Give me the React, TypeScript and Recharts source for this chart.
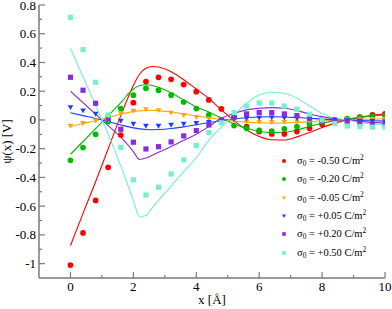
import React from 'react';
import { ComposedChart, XAxis, YAxis, Line, Scatter } from 'recharts';

// ---------- data ----------
const xPoints = [0, 0.4, 0.8, 1.2, 1.6, 2.0, 2.4, 2.8, 3.2, 3.6, 4.0, 4.4, 4.8, 5.2, 5.6, 6.0, 6.4, 6.8, 7.2, 7.6, 8.0, 8.4, 8.8, 9.2, 9.6, 10.0];

const pointsM050 = [-1.01, -0.786, -0.56, -0.33, -0.105, 0.12, 0.267, 0.297, 0.283, 0.246, 0.197, 0.139, 0.077, 0.02, -0.046, -0.081, -0.097, -0.097, -0.081, -0.058, -0.03, -0.01, 0.005, 0.019, 0.035, 0.042];
const pointsM020 = [-0.281, -0.192, -0.1, -0.012, 0.079, 0.172, 0.22, 0.207, 0.172, 0.125, 0.079, 0.035, -0.005, -0.039, -0.058, -0.072, -0.077, -0.062, -0.046, -0.028, -0.012, 0.0, 0.01, 0.018, 0.024, 0.03];
const pointsM005 = [-0.042, -0.023, -0.005, 0.02, 0.046, 0.063, 0.074, 0.067, 0.049, 0.033, 0.019, 0.008, 0.0, -0.006, -0.012, -0.015, -0.016, -0.015, -0.012, -0.008, -0.004, -0.001, 0.002, 0.004, 0.006, 0.008];
const pointsP005 = [0.088, 0.065, 0.042, 0.015, -0.007, -0.028, -0.042, -0.042, -0.035, -0.028, -0.023, -0.015, -0.005, 0.005, 0.012, 0.015, 0.016, 0.015, 0.012, 0.008, 0.003, 0.0, -0.003, -0.006, -0.008, -0.01];
const pointsP020 = [0.297, 0.207, 0.116, 0.012, -0.065, -0.155, -0.202, -0.186, -0.153, -0.111, -0.074, -0.035, 0.0, 0.019, 0.042, 0.051, 0.051, 0.042, 0.03, 0.012, -0.005, -0.012, -0.015, -0.023, -0.03, -0.033];
const pointsP050 = [0.714, 0.489, 0.262, 0.035, -0.19, -0.417, -0.522, -0.468, -0.376, -0.278, -0.178, -0.088, -0.02, 0.051, 0.097, 0.118, 0.118, 0.097, 0.074, 0.04, 0.0, -0.025, -0.042, -0.046, -0.05, -0.05];

const xLine = [0, 0.4, 0.8, 1.2, 1.6, 2.0, 2.2, 2.4, 2.6, 2.8, 3.2, 3.6, 4.0, 4.4, 4.8, 5.2, 5.6, 6.0, 6.4, 6.8, 7.2, 7.6, 8.0, 8.4, 8.8, 9.2, 9.6, 10.0];

const lineM050 = [-0.874, -0.65, -0.43, -0.2, 0.03, 0.24, 0.32, 0.36, 0.372, 0.368, 0.335, 0.28, 0.215, 0.15, 0.07, -0.005, -0.07, -0.115, -0.138, -0.14, -0.118, -0.088, -0.053, -0.022, 0.0, 0.018, 0.032, 0.042];
const lineM020 = [-0.24, -0.15, -0.06, 0.03, 0.12, 0.215, 0.24, 0.245, 0.24, 0.228, 0.19, 0.14, 0.09, 0.055, 0.012, -0.028, -0.058, -0.08, -0.088, -0.086, -0.07, -0.046, -0.023, -0.005, 0.007, 0.019, 0.028, 0.035];
const lineM005 = [-0.045, -0.025, -0.005, 0.017, 0.04, 0.058, 0.063, 0.066, 0.067, 0.065, 0.055, 0.042, 0.028, 0.015, 0.003, -0.007, -0.015, -0.02, -0.022, -0.021, -0.017, -0.012, -0.006, -0.002, 0.001, 0.004, 0.006, 0.008];
const lineP005 = [0.05, 0.03, 0.01, -0.012, -0.035, -0.055, -0.062, -0.066, -0.068, -0.067, -0.06, -0.048, -0.033, -0.018, -0.004, 0.007, 0.015, 0.02, 0.022, 0.021, 0.017, 0.012, 0.006, 0.002, -0.001, -0.004, -0.006, -0.008];
const lineP020 = [0.2, 0.12, 0.04, -0.04, -0.12, -0.22, -0.275, -0.265, -0.245, -0.225, -0.185, -0.142, -0.1, -0.046, 0.012, 0.046, 0.07, 0.081, 0.086, 0.081, 0.065, 0.042, 0.023, 0.008, 0.0, -0.01, -0.017, -0.022];
const lineP050 = [0.5, 0.3, 0.1, -0.1, -0.32, -0.56, -0.675, -0.665, -0.61, -0.56, -0.46, -0.36, -0.265, -0.14, -0.05, 0.035, 0.116, 0.174, 0.193, 0.186, 0.151, 0.097, 0.046, 0.012, 0.0, -0.019, -0.028, -0.035];

const sigmaLabels = ['-0.50', '-0.20', '-0.05', '+0.05', '+0.20', '+0.50'];

const xTicks = [0, 1, 2, 3, 4, 5, 6, 7, 8, 9, 10];
const xMajor = [0, 2, 4, 6, 8, 10];
const yTicks = [-1, -0.9, -0.8, -0.7, -0.6, -0.5, -0.4, -0.3, -0.2, -0.1, 0, 0.1, 0.2, 0.3, 0.4, 0.5, 0.6, 0.7, 0.8];
const yMajor = [-1, -0.8, -0.6, -0.4, -0.2, 0, 0.2, 0.4, 0.6, 0.8];

// ---------- styles ----------
const FONT = "'Liberation Serif', 'Times New Roman', 'DejaVu Serif', serif";
const FRAME = '#7a7a7a';
const textStyle = { fontFamily: FONT, fontSize: 13 };

const series = [
  { key: 's0', label: sigmaLabels[0], points: pointsM050, line: lineM050, color: '#ff0000', shape: 'circle' },
  { key: 's1', label: sigmaLabels[1], points: pointsM020, line: lineM020, color: '#00bb00', shape: 'circle' },
  { key: 's2', label: sigmaLabels[2], points: pointsM005, line: lineM005, color: '#ffa500', shape: 'tri' },
  { key: 's3', label: sigmaLabels[3], points: pointsP005, line: lineP005, color: '#1f3cff', shape: 'tri' },
  { key: 's4', label: sigmaLabels[4], points: pointsP020, line: lineP020, color: '#8a2be2', shape: 'square' },
  { key: 's5', label: sigmaLabels[5], points: pointsP050, line: lineP050, color: '#72f2c8', shape: 'square' },
];

const lineTable = xLine.map((x, i) => {
  const row: any = { x };
  series.forEach((s) => { row[s.key] = s.line[i]; });
  return row;
});

const scatterData = series.map((s) => s.points.map((y, i) => ({ x: xPoints[i], y })));

function Marker({ cx, cy, shape, color, size }: any) {
  if (cx == null || cy == null) return null;
  if (shape === 'circle') return <circle cx={cx} cy={cy} r={size * 0.55} fill={color} />;
  if (shape === 'square') {
    const h = size * 0.5;
    return <rect x={cx - h} y={cy - h} width={2 * h} height={2 * h} fill={color} />;
  }
  const w = size * 0.55;
  return <polygon points={`${cx - w},${cy - w * 0.75} ${cx + w},${cy - w * 0.75} ${cx},${cy + w * 0.95}`} fill={color} />;
}

const BottomTick = (props: any) => {
  const { x, y, payload } = props;
  const major = xMajor.includes(payload.value);
  return (
    <g>
      <line x1={x} y1={y} x2={x} y2={y - (major ? 6 : 3)} stroke={FRAME} strokeWidth={1.2} />
      {major && (
        <text x={x} y={y + 13} textAnchor="middle" style={textStyle} fill="#000">
          {String(payload.value)}
        </text>
      )}
    </g>
  );
};

const TopTick = (props: any) => {
  const { x, y, payload } = props;
  const major = xMajor.includes(payload.value);
  return <line x1={x} y1={y} x2={x} y2={y + (major ? 6 : 3)} stroke={FRAME} strokeWidth={1.2} />;
};

const LeftTick = (props: any) => {
  const { x, y, payload } = props;
  const major = yMajor.includes(payload.value);
  return (
    <g>
      <line x1={x} y1={y} x2={x + (major ? 6 : 3)} y2={y} stroke={FRAME} strokeWidth={1.2} />
      {major && (
        <text x={x - 3} y={y + 4.5} textAnchor="end" style={textStyle} fill="#000">
          {String(payload.value)}
        </text>
      )}
    </g>
  );
};

const RightTick = (props: any) => {
  const { x, y, payload } = props;
  const major = yMajor.includes(payload.value);
  return <line x1={x} y1={y} x2={x - (major ? 6 : 3)} y2={y} stroke={FRAME} strokeWidth={1.2} />;
};

const YTitle = (props: any) => {
  const vb = props.viewBox || { x: 0, y: 5, width: 39, height: 273 };
  const cx = vb.x + 11;
  const cy = vb.y + vb.height / 2;
  return (
    <text x={cx} y={cy} transform={`rotate(-90 ${cx} ${cy})`} textAnchor="middle" style={textStyle} fill="#000">
      ψ(x) [V]
    </text>
  );
};

const XTitle = (props: any) => {
  const vb = props.viewBox || { x: 39, y: 278, width: 346, height: 31 };
  return (
    <text x={vb.x + vb.width / 2} y={vb.y + 26} textAnchor="middle" style={textStyle} fill="#000">
      x [Å]
    </text>
  );
};

function LegendBox() {
  return (
    <div style={{ position: 'absolute', left: 278, top: 152, fontFamily: FONT, fontSize: 10.5, color: '#000' }}>
      {series.map((s) => (
        <div key={s.key} style={{ height: 18.3, display: 'flex', alignItems: 'center', whiteSpace: 'nowrap' }}>
          <svg width={12} height={10} style={{ marginRight: 7 }}>
            <Marker cx={6} cy={5} shape={s.shape} color={s.color} size={3.6} />
          </svg>
          <span style={{ lineHeight: '10px' }}>
            σ<sub style={{ fontSize: '70%', verticalAlign: '-2px', lineHeight: 0 }}>0</sub> = {s.label} C/m
            <sup style={{ fontSize: '70%', verticalAlign: '4px', lineHeight: 0 }}>2</sup>
          </span>
        </div>
      ))}
    </div>
  );
}

export default function App() {
  return (
    <div style={{ position: 'absolute', left: 0, top: 0, width: 392, height: 309, background: '#fff', fontFamily: FONT }}>
      <ComposedChart width={392} height={309} margin={{ top: 5, right: 7, bottom: 0, left: 0 }} style={{ fontFamily: FONT }}>
        <XAxis
          dataKey="x"
          type="number"
          domain={[-1, 10]}
          allowDataOverflow
          ticks={xTicks}
          interval={0}
          height={31}
          tickSize={0}
          tickMargin={0}
          tickLine={false}
          tick={BottomTick}
          axisLine={{ stroke: FRAME, strokeWidth: 1.5 }}
          label={XTitle}
        />
        <XAxis
          xAxisId="top"
          orientation="top"
          type="number"
          domain={[-1, 10]}
          allowDataOverflow
          ticks={xTicks}
          interval={0}
          height={0}
          tickSize={0}
          tickMargin={0}
          tickLine={false}
          tick={TopTick}
          axisLine={{ stroke: FRAME, strokeWidth: 1.5 }}
        />
        <YAxis
          dataKey="y"
          type="number"
          domain={[-1.1, 0.8]}
          allowDataOverflow
          ticks={yTicks}
          interval={0}
          width={39}
          tickSize={0}
          tickMargin={0}
          tickLine={false}
          tick={LeftTick}
          axisLine={{ stroke: FRAME, strokeWidth: 1.5 }}
          label={YTitle}
        />
        <YAxis
          yAxisId="right"
          orientation="right"
          type="number"
          domain={[-1.1, 0.8]}
          allowDataOverflow
          ticks={yTicks}
          interval={0}
          width={0}
          tickSize={0}
          tickMargin={0}
          tickLine={false}
          tick={RightTick}
          axisLine={{ stroke: FRAME, strokeWidth: 1.5 }}
        />
        {series.map((s) => (
          <Line
            key={'l' + s.key}
            data={lineTable}
            dataKey={s.key}
            type="monotone"
            stroke={s.color}
            strokeWidth={1.1}
            dot={false}
            activeDot={false}
            isAnimationActive={false}
          />
        ))}
        {series.map((s, i) => (
          <Scatter
            key={'p' + s.key}
            data={scatterData[i]}
            dataKey="y"
            isAnimationActive={false}
            shape={(p: any) => <Marker cx={p.cx} cy={p.cy} shape={s.shape} color={s.color} size={5.2} />}
          />
        ))}
      </ComposedChart>
      <LegendBox />
    </div>
  );
}
